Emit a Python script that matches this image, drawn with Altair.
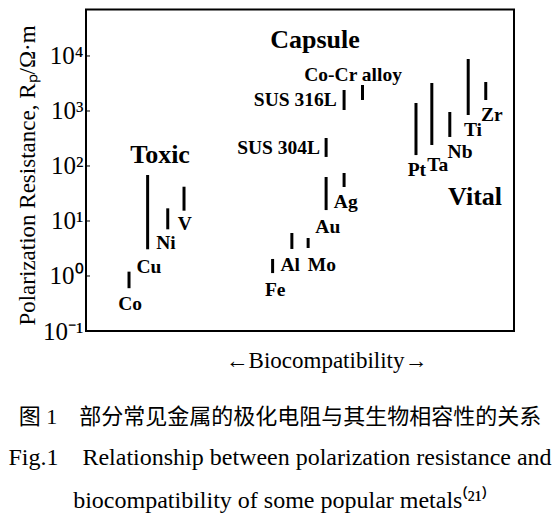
import altair as alt
import pandas as pd

# --- data ---
metals = ["Co", "Cu", "Ni", "V", "Fe", "Al", "Mo", "Au", "SUS 304L", "Ag",
          "SUS 316L", "Co-Cr alloy", "Pt", "Ta", "Nb", "Ti", "Zr"]
bio_pos = [10.05, 14.4, 19.1, 22.9, 43.6, 48.1, 51.9, 56.1, 56.1, 60.3,
           60.3, 64.6, 77.1, 80.8, 85.0, 89.3, 93.4]
rp_low = [0.60, 3.06, 7.06, 15.4, 1.13, 3.10, 3.23, 15.8, 146, 41.5,
          1042, 1585, 158, 241, 337, 846, 1585]
rp_high = [1.20, 68.6, 17.0, 42.0, 2.04, 6.05, 4.91, 63.1, 323, 74.6,
           2410, 2970, 1397, 3228, 959, 8810, 3366]
label_x = [10.3, 14.7, 18.7, 23.1, 44.2, 47.7, 55.1, 56.5, 45.0, 60.7,
           48.9, 62.4, 77.3, 82.2, 87.4, 90.4, 94.8]
label_y = [0.31, 1.48, 3.98, 8.82, 0.56, 1.58, 1.58, 7.78, 212, 22.2,
           1585, 4515, 84.6, 104, 180, 452, 846]

groups = ["Toxic", "Capsule", "Vital"]
group_x = [17.3, 53.5, 90.9]
group_y = [158, 19540, 27.3]

y_ticks = [0.1, 1, 10, 100, 1000, 10000]
tick_labels = ["10⁻¹", "10⁰", "10¹", "10²", "10³", "10⁴"]

df = pd.DataFrame({"metal": metals, "x": bio_pos, "lo": rp_low, "hi": rp_high,
                   "lx": label_x, "ly": label_y})
gdf = pd.DataFrame({"g": groups, "x": group_x, "y": group_y})
tdf = pd.DataFrame({"v": y_ticks})

SERIF = "Liberation Serif"
xscale = alt.Scale(domain=[0, 100])
yscale = alt.Scale(type="log", domain=[0.1, 70000], nice=False)

label_expr = str(tick_labels) + "[round(log(datum.value)/LN10)+1]"

xaxis = alt.Axis(labels=False, ticks=False, domain=False, grid=False,
                 title="←Biocompatibility→",
                 titleFont=SERIF,
                 titleFontSize=23, titleFontWeight="normal",
                 titleColor="black", titleX=240, titleY=36,
                 titleBaseline="alphabetic", titleAlign="center")
yaxis = alt.Axis(values=y_ticks, labelExpr=label_expr, ticks=False,
                 domain=False, grid=False, labelFont=SERIF,
                 labelFontSize=25, labelColor="black", labelPadding=3,
                 title="Polarization Resistance, Rₚ/Ω·m",
                 titleFont=SERIF, titleFontSize=23,
                 titleFontWeight="normal", titleColor="black",
                 titleAngle=270, titleX=-52, titleY=165.5,
                 titleBaseline="alphabetic", titleAlign="center")

bars = alt.Chart(df).mark_rule(color="black", strokeWidth=3).encode(
    x=alt.X("x:Q", scale=xscale, axis=xaxis),
    y=alt.Y("lo:Q", scale=yscale, axis=yaxis),
    y2="hi:Q",
)

ticks = alt.Chart(tdf).mark_rule(color="black", strokeWidth=1).encode(
    x=alt.value(0), x2=alt.value(4),
    y=alt.Y("v:Q", scale=yscale, axis=yaxis),
)

labels = alt.Chart(df).mark_text(font=SERIF, fontWeight="bold", fontSize=19.5,
                                 color="black", baseline="middle",
                                 align="center").encode(
    x=alt.X("lx:Q", scale=xscale, axis=xaxis),
    y=alt.Y("ly:Q", scale=yscale, axis=yaxis),
    text="metal:N",
)

glabels = alt.Chart(gdf).mark_text(font=SERIF, fontWeight="bold", fontSize=26,
                                   color="black", baseline="middle",
                                   align="center").encode(
    x=alt.X("x:Q", scale=xscale, axis=xaxis),
    y=alt.Y("y:Q", scale=yscale, axis=yaxis),
    text="g:N",
)

chart = alt.layer(bars, ticks, labels, glabels).properties(
    width=428, height=321.5,
    autosize=alt.AutoSizeParams(type="none"),
    padding={"left": 78, "top": 1.5, "right": 38, "bottom": 189},
    title=alt.TitleParams(
        text="图 1\u3000部分常见金属的极化电阻与其生物相容性的关系",
        subtitle=["Fig.1\u00a0\u00a0\u00a0\u00a0Relationship between polarization resistance and",
                  "biocompatibility of some popular metals⁽²¹⁾"],
        orient="bottom", anchor="middle", frame="group", dx=-20, offset=35,
        font=SERIF + ", Noto Sans CJK SC", fontSize=22, fontWeight="normal",
        color="black", subtitleFont=SERIF, subtitleFontSize=24,
        subtitleColor="black", subtitlePadding=17, subtitleLineHeight=43,
    ),
).configure_view(stroke="black", strokeWidth=2)

chart.save("out.html", embed_options={"renderer": "svg", "actions": False})
